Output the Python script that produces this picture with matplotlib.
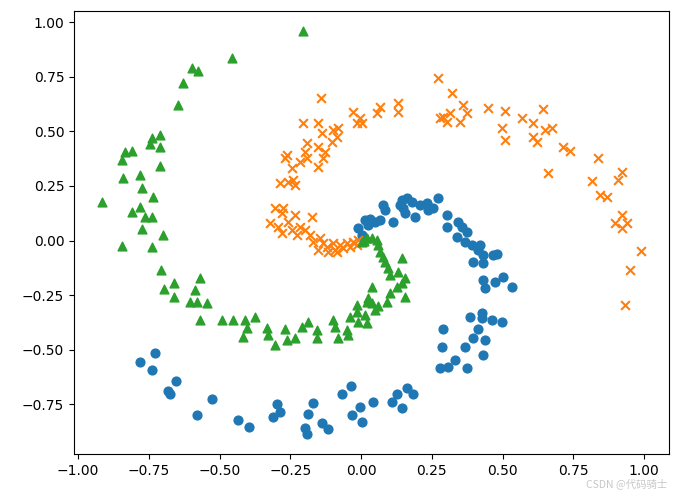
import numpy as np
import matplotlib
matplotlib.use('Agg')
import matplotlib.pyplot as plt

# spiral dataset, 3 classes
class0_x = [0.014, 0.025, 0.049, 0.067, 0.078, 0.084, 0.114, 0.137, 0.143, 0.161,
            0.179, 0.149, 0.155, 0.190, 0.208, 0.231, 0.237, 0.255, 0.272, 0.302,
            0.302, 0.343, 0.355, 0.373, 0.337, 0.367, 0.390, 0.420, 0.414, 0.431,
            0.467, 0.479, 0.396, 0.431, 0.431, 0.437, 0.473, 0.502, 0.532,
            0.384, 0.426, 0.426, 0.461, 0.496, 0.290, 0.414, 0.396, 0.437, 0.367,
            0.284, 0.431, 0.331, 0.308, 0.278, 0.373, 0.161, 0.184, 0.126, 0.108,
            0.143, 0.043,
            -0.528, -0.434, -0.395, -0.298, -0.287, -0.310, -0.169, -0.187, -0.198,
            -0.192, -0.139, -0.116, -0.069, -0.037, -0.004, -0.033, 0.002,
            -0.781, -0.728, -0.740, -0.655, -0.681, -0.675, -0.581,
            -0.010, 0.002, 0.005, 0.030]
class0_y = [0.094, 0.071, 0.087, 0.094, 0.163, 0.140, 0.087, 0.163, 0.186, 0.194,
            0.178, 0.148, 0.125, 0.109, 0.163, 0.171, 0.140, 0.148, 0.194, 0.117,
            0.064, 0.087, 0.064, 0.041, 0.018, -0.005, -0.020, -0.020, -0.043, -0.066,
            -0.066, -0.063, -0.097, -0.104, -0.180, -0.218, -0.188, -0.165, -0.211,
            -0.348, -0.333, -0.356, -0.364, -0.371, -0.405, -0.405, -0.447, -0.455, -0.486,
            -0.486, -0.524, -0.547, -0.577, -0.585, -0.582, -0.676, -0.704, -0.704, -0.740,
            -0.765, -0.738,
            -0.727, -0.821, -0.852, -0.750, -0.786, -0.806, -0.745, -0.795, -0.857,
            -0.887, -0.837, -0.863, -0.704, -0.664, -0.760, -0.799, -0.829,
            -0.557, -0.513, -0.594, -0.643, -0.689, -0.704, -0.799,
            0.056, 0.026, 0.010, 0.100]

class1_x = [-0.269, -0.245, -0.216, -0.192, -0.151, -0.134, -0.287, -0.257, -0.234, -0.240,
            -0.304, -0.275, -0.281, -0.234, -0.175, -0.322, -0.293, -0.257, -0.281, -0.245,
            -0.216, -0.198, -0.181, -0.228, -0.169, -0.145, -0.134, -0.151, -0.122, -0.098,
            -0.092, -0.075, -0.051, -0.028, -0.116, -0.086, -0.063, -0.039, -0.016, -0.010,
            -0.142, -0.204, -0.151, -0.139, -0.098, -0.081, -0.086, -0.104, -0.192, -0.198,
            -0.151, -0.128, -0.263, -0.028, -0.004, -0.016, 0.002,
            0.055, 0.067, 0.131, 0.131, 0.272, 0.320, 0.278, 0.302, 0.314, 0.361,
            0.349, 0.373, 0.449, 0.508, 0.496, 0.508, 0.567, 0.290,
            0.643, 0.608, 0.649, 0.675, 0.608, 0.620, 0.714, 0.738, 0.838,
            0.661, 0.814, 0.908, 0.920, 0.844, 0.867, 0.897, 0.920, 0.938, 0.920,
            0.988, 0.949, 0.932]
class1_y = [0.377, 0.331, 0.361, 0.377, 0.338, 0.377, 0.262, 0.270, 0.255, 0.277,
            0.148, 0.148, 0.125, 0.117, 0.109, 0.079, 0.064, 0.087, 0.033, 0.049,
            0.064, 0.049, 0.026, 0.026, -0.005, 0.011, -0.012, -0.043, -0.028, -0.012,
            -0.043, -0.020, -0.012, -0.005, -0.051, -0.051, -0.035, -0.028, -0.020, 0.003,
            0.654, 0.537, 0.537, 0.491, 0.506, 0.514, 0.476, 0.453, 0.446, 0.407,
            0.430, 0.407, 0.392, 0.590, 0.560, 0.537, 0.537,
            0.583, 0.613, 0.629, 0.587, 0.743, 0.674, 0.560, 0.544, 0.583, 0.621,
            0.544, 0.583, 0.606, 0.593, 0.514, 0.461, 0.560, 0.565,
            0.603, 0.537, 0.506, 0.517, 0.476, 0.450, 0.430, 0.410, 0.377,
            0.308, 0.273, 0.277, 0.316, 0.209, 0.201, 0.079, 0.117, 0.079, 0.056,
            -0.046, -0.135, -0.295]

class2_x = [-0.598, -0.575, -0.628, -0.646, -0.710, -0.740, -0.746, -0.710, -0.834, -0.808,
            -0.845, -0.457, -0.204,
            -0.710, -0.840, -0.781, -0.775, -0.734, -0.916, -0.781, -0.808, -0.763, -0.740,
            -0.773, -0.699, -0.846, -0.738, -0.707, -0.660, -0.569, -0.695, -0.660, -0.587,
            -0.604, -0.581, -0.545, -0.569,
            -0.492, -0.451, -0.410, -0.375, -0.404, -0.416, -0.334, -0.328, -0.304, -0.269,
            -0.263, -0.234, -0.210, -0.187, -0.157, -0.157, -0.098, -0.092, -0.081, -0.051,
            -0.039, -0.016, -0.010, 0.014, 0.020, -0.045,
            0.020, 0.037, 0.055, 0.061, 0.067, 0.078, 0.084, 0.096, 0.102, 0.131,
            0.143, 0.155, 0.126, 0.143, 0.037, 0.102, 0.155, 0.025, 0.037, 0.090,
            -0.016, 0.020, 0.002, 0.010, 0.050, 0.060]
class2_y = [0.789, 0.778, 0.720, 0.621, 0.484, 0.468, 0.441, 0.430, 0.407, 0.410,
            0.370, 0.835, 0.960,
            0.343, 0.285, 0.300, 0.239, 0.201, 0.178, 0.155, 0.129, 0.109, 0.109,
            0.053, 0.026, -0.023, -0.028, -0.135, -0.193, -0.170, -0.222, -0.257, -0.226,
            -0.280, -0.280, -0.287, -0.364,
            -0.364, -0.364, -0.364, -0.348, -0.402, -0.440, -0.402, -0.432, -0.478, -0.405,
            -0.455, -0.445, -0.394, -0.371, -0.409, -0.447, -0.364, -0.394, -0.447, -0.409,
            -0.348, -0.326, -0.371, -0.341, -0.379, -0.432,
            0.011, 0.011, 0.003, -0.020, -0.051, -0.074, -0.097, -0.127, -0.158, -0.142,
            -0.081, -0.173, -0.211, -0.196, -0.211, -0.241, -0.257, -0.264, -0.287, -0.280,
            -0.295, -0.280, -0.005, 0.000, -0.320, -0.300]

fig = plt.figure(figsize=(6.77, 4.91), dpi=100)
ax = fig.add_axes([0.1093, 0.0754, 0.8787, 0.9022])

markers = ['o', 'x', '^']
data = [(class0_x, class0_y), (class1_x, class1_y), (class2_x, class2_y)]
for i, (xs, ys) in enumerate(data):
    ax.scatter(xs, ys, s=40, marker=markers[i])

ax.set_xlim(-1.014, 1.087)
ax.set_ylim(-0.977, 1.051)
ax.set_xticks(np.arange(-1.0, 1.01, 0.25))
ax.set_yticks(np.arange(-0.75, 1.01, 0.25))

# watermark, bottom-right corner, kept just under the tick labels
fig.text(0.985, 0.004, 'CSDN @代码骑士', ha='right', va='bottom', color='#c8c8c8',
         fontsize=7.5, family=['Noto Sans CJK SC', 'DejaVu Sans'])

fig.savefig('out.png', dpi=100)
